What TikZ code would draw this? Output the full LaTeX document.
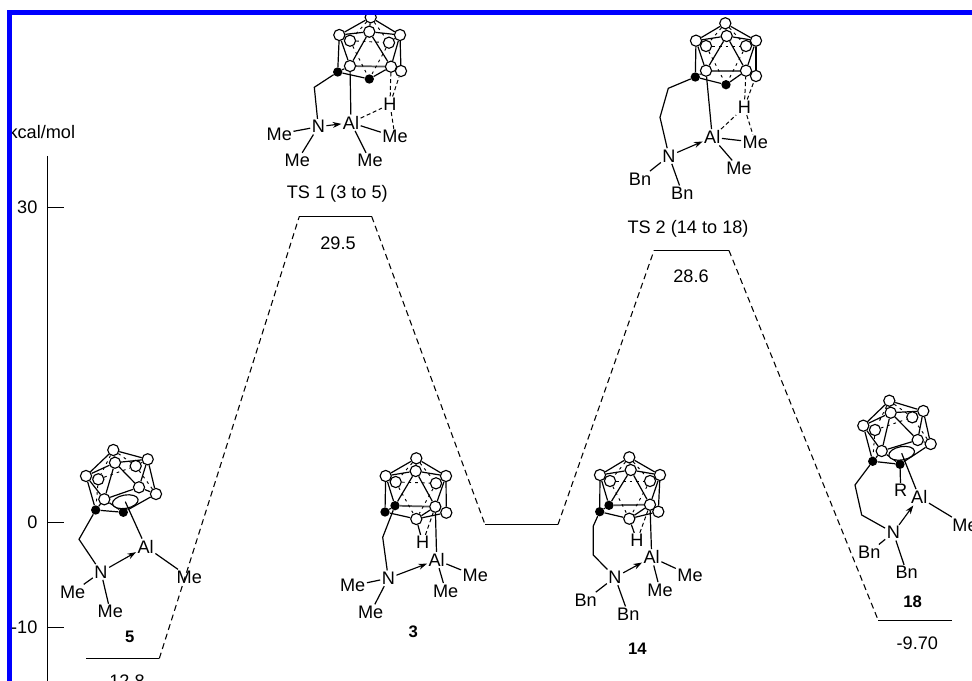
\documentclass[tikz,border=0pt]{standalone}
\usepackage{fontspec}
\setmainfont{Liberation Sans}
\usetikzlibrary{arrows.meta, shapes.geometric, backgrounds}

% cage bonds, one macro per way the cage is drawn
\newcommand{\opencage}{
  \begin{scope}[on background layer]
    \foreach \a/\b in {top/r, top/c, top/l, c/l, c/r, c/fl, c/fr, l/fl, l/ca, r/fr, r/frr, fr/frr, fl/ca, ca/cb, fl/cb, fr/fl, frr/cb}
      \draw[bond] (\a) -- (\b);
    \foreach \a/\b in {top/br, top/bl, l/bl, r/br, frr/br, bl/ca, bl/br}
      \draw[backbond] (\a) -- (\b);
  \end{scope}
}
\newcommand{\tscage}{
  \begin{scope}[on background layer]
    \foreach \a/\b in {top/l, top/c, top/r, l/c, c/r, c/fl, c/fr, l/fl, l/ca, r/fr, r/frr, ca/fl, ca/cb, cb/fr, fr/frr}
      \draw[bond] (\a) -- (\b);
    \draw[frontbond] (fl) -- (fr);
    \foreach \a/\b in {top/bl, top/br, l/bl, r/br, bl/br, bl/cb, br/cb}
      \draw[backbond] (\a) -- (\b);
  \end{scope}
}
\newcommand{\hcage}{
  \begin{scope}[on background layer]
    \foreach \a/\b in {top/l, top/c, top/r, l/c, c/r, c/ca, c/fr, l/ca, l/cb, r/fr, r/frr, ca/cb, cb/bot, bot/fr, bot/frr, fr/frr}
      \draw[bond] (\a) -- (\b);
    \draw[frontbond] (ca) -- (fr);
    \foreach \a/\b in {top/bl, top/br, l/bl, r/br, bl/br, bl/bot, br/bot}
      \draw[backbond] (\a) -- (\b);
  \end{scope}
}

\begin{document}
\begin{tikzpicture}[
  x=0.75pt, y=-0.75pt,
  lbl/.style={font=\fontsize{13.6}{15}\selectfont, inner sep=1pt},
  cmpd/.style={font=\fontsize{12.5}{14}\selectfont\bfseries, inner sep=1pt},
  atom/.style={circle, draw, fill=white, inner sep=0pt, minimum size=8.4pt, line width=0.85pt},
  carbon/.style={circle, fill=black, inner sep=0pt, minimum size=7pt},
  orbital/.style={ellipse, draw, fill=white, inner sep=0pt, minimum width=19.5pt, minimum height=10pt, line width=0.85pt},
  bond/.style={line width=0.9pt},
  frontbond/.style={line width=1.3pt, black!65},
  backbond/.style={line width=0.7pt, dash pattern=on 2pt off 3pt},
  dbond/.style={line width=0.75pt, dash pattern=on 3pt off 2pt},
  dative/.style={line width=0.85pt, -{Stealth[length=6.5pt, width=4.5pt]}},
  level/.style={line width=0.75pt},
  barrier/.style={line width=0.8pt, dash pattern=on 4.5pt off 3pt}
]
  \useasboundingbox (0,0) rectangle (972,681);

  % axis
  \coordinate (axistop) at (47.5,156);
  \coordinate (axisbot) at (47.5,681);
  \draw[level] (axistop) -- (axisbot);
  \node[lbl, anchor=west] (unit) at (7,132) {kcal/mol};
  \foreach \y/\t in {207.5/30, 522.5/0, 627.5/-10} {
    \coordinate (tick\t) at (47.5,\y);
    \node[lbl, anchor=east] (lab\t) at (39,\y) {\t};
    \draw[level] (tick\t) -- ++(16,0);
  }

  % energy levels
  \foreach \n/\a/\b/\y in {five/86/159.3/658.5, tsone/299.3/371.7/216.5, three/485/558/524.5, tstwo/654/729/250.5, eight/878.3/951.7/620.5} {
    \coordinate (\n a) at (\a,\y);
    \coordinate (\n b) at (\b,\y);
    \draw[level] (\n a) -- (\n b);
  }
  \draw[barrier] (fiveb) -- (tsonea);
  \draw[barrier] (tsoneb) -- (threea);
  \draw[barrier] (threeb) -- (tstwoa);
  \draw[barrier] (tstwob) -- (eighta);

  \node[lbl] (e5)  at (124,681) {-12.8};
  \node[lbl] (e1)  at (338,243) {29.5};
  \node[lbl] (e2)  at (691,276) {28.6};
  \node[lbl] (e18) at (917.3,643) {-9.70};
  \node[lbl] (ts1) at (337.3,194) {TS 1 (3 to 5)};
  \node[lbl] (ts2) at (688,229) {TS 2 (14 to 18)};
  \node[cmpd] (c5)  at (129.7,636.7) {5};
  \node[cmpd] (c3)  at (413.3,632) {3};
  \node[cmpd] (c14) at (637.3,648.3) {14};
  \node[cmpd] (c18) at (912.7,602) {18};

  % 5
  \begin{scope}[name prefix=mf-]
    \foreach \n/\x/\y in {top/113.3/450, r/147.7/459.3, c/115/462.7, br/135.7/466, l/86/476, bl/98.3/479.3, fr/139/487.3, frr/156/494, fl/104.3/499.3}
      \node[atom] (\n) at (\x,\y) {};
    \node[carbon] (ca) at (95.7,510) {};
    \node[carbon] (cb) at (123.3,512.3) {};
    \node[orbital, rotate=10] (orb) at (125.3,501.7) {};
    \opencage
    \coordinate (ch) at (79,539.3);
    \node[lbl] (n)  at (101,572) {N};
    \node[lbl] (al) at (145.7,546.7) {Al};
    \node[lbl] (m1) at (189.3,577.3) {Me};
    \node[lbl] (m2) at (72.7,592.3) {Me};
    \node[lbl] (m3) at (110.3,611.7) {Me};
    \draw[bond] (ca) -- (ch) -- (n);
    \draw[bond] (al) -- (orb.center);
    \draw[bond] (al) -- (m1);
    \draw[bond] (n) -- (m2);
    \draw[bond] (n) -- (m3);
    \draw[dative] (n) -- (al);
  \end{scope}

  % TS 1
  \begin{scope}[name prefix=ma-]
    \foreach \n/\x/\y in {top/370.7/17.3, l/339.3/35, c/369.3/31.7, r/400/35, bl/350/40.7, br/389/42.7, fl/350/66, fr/391/66.7, frr/401/71}
      \node[atom] (\n) at (\x,\y) {};
    \node[carbon] (ca) at (337.7,72) {};
    \node[carbon] (cb) at (369.3,79) {};
    \tscage
    \coordinate (ch) at (314.3,87.3);
    \node[lbl] (n)  at (318.3,126.7) {N};
    \node[lbl] (al) at (351,122.7) {Al};
    \node[lbl] (h)  at (390,104.3) {H};
    \node[lbl] (m1) at (395,136.7) {Me};
    \node[lbl] (m2) at (279.3,134) {Me};
    \node[lbl] (m3) at (297.3,160.7) {Me};
    \node[lbl] (m4) at (370,160.7) {Me};
    \draw[bond] (ca) -- (ch) -- (n);
    \draw[bond] (al) -- (fl);
    \draw[bond] (al) -- (m1);
    \draw[bond] (al) -- (m4);
    \draw[bond] (n) -- (m2);
    \draw[bond] (n) -- (m3);
    \draw[dative] (n) -- (al);
    \foreach \a/\b in {al/h, h/m1, h/fr, h/frr}
      \draw[dbond] (\a) -- (\b);
  \end{scope}

  % TS 2
  \begin{scope}[name prefix=mb-]
    \foreach \n/\x/\y in {top/725.3/23.3, l/696/40.7, c/726.7/36, r/756/40.7, bl/706/46, br/746/46, fl/706/70.7, fr/746/70.7, frr/756/76}
      \node[atom] (\n) at (\x,\y) {};
    \node[carbon] (ca) at (695.3,77) {};
    \node[carbon] (cb) at (726,84.7) {};
    \tscage
    \coordinate (cha) at (668.3,88.3);
    \coordinate (chb) at (660,117.3);
    \node[lbl] (n)  at (669,156) {N};
    \node[lbl] (al) at (712.3,137.3) {Al};
    \node[lbl] (h)  at (744.3,107.3) {H};
    \node[lbl] (m1) at (755.3,142.3) {Me};
    \node[lbl] (m2) at (739,168.3) {Me};
    \node[lbl] (b1) at (640,179) {Bn};
    \node[lbl] (b2) at (682.3,193.3) {Bn};
    \draw[bond] (ca) -- (cha) -- (chb) -- (n);
    \draw[bond] (al) -- (fl);
    \draw[bond] (al) -- (m1);
    \draw[bond] (al) -- (m2);
    \draw[bond] (n) -- (b1);
    \draw[bond] (n) -- (b2);
    \draw[dative] (n) -- (al);
    \foreach \a/\b in {al/h, h/m1, h/fr, h/frr}
      \draw[dbond] (\a) -- (\b);
  \end{scope}

  % 3
  \begin{scope}[name prefix=mc-]
    \foreach \n/\x/\y in {top/416.3/458.3, l/385.7/476, c/415.7/471, r/446/476, bl/395.7/482, br/436/483.3, fr/435.3/506.7, frr/446.3/512.7, bot/416.3/519}
      \node[atom] (\n) at (\x,\y) {};
    \node[carbon] (ca) at (395,505.7) {};
    \node[carbon] (cb) at (385,512) {};
    \hcage
    \coordinate (ch) at (382.7,537.3);
    \node[lbl] (n)  at (388.3,578.3) {N};
    \node[lbl] (al) at (436.7,560) {Al};
    \node[lbl] (h)  at (422.7,542.7) {H};
    \node[lbl] (m1) at (475.3,575.7) {Me};
    \node[lbl] (m2) at (445.7,591) {Me};
    \node[lbl] (m3) at (352.7,585.7) {Me};
    \node[lbl] (m4) at (370.7,612.3) {Me};
    \draw[bond] (ca) -- (ch) -- (n);
    \draw[bond] (al) -- (fr);
    \draw[bond] (al) -- (m1);
    \draw[bond] (al) -- (m2);
    \draw[bond] (n) -- (m3);
    \draw[bond] (n) -- (m4);
    \draw[dative] (n) -- (al);
    \draw[bond] (h) -- (bot);
    \draw[dbond] (h) -- (fr);
  \end{scope}

  % 14
  \begin{scope}[name prefix=md-]
    \foreach \n/\x/\y in {top/629.3/457.3, l/600/475, c/630.7/470, r/660/475, bl/610/481, br/650/481, fr/650/504.7, frr/658.3/511.7, bot/629.3/518.7}
      \node[atom] (\n) at (\x,\y) {};
    \node[carbon] (ca) at (609,505.3) {};
    \node[carbon] (cb) at (599.7,511.7) {};
    \hcage
    \coordinate (cha) at (593.3,526);
    \coordinate (chb) at (593.3,555);
    \node[lbl] (n)  at (615,577.3) {N};
    \node[lbl] (al) at (651.7,557.3) {Al};
    \node[lbl] (h)  at (637,540.7) {H};
    \node[lbl] (m1) at (690,575) {Me};
    \node[lbl] (m2) at (660,590) {Me};
    \node[lbl] (b1) at (585.7,600) {Bn};
    \node[lbl] (b2) at (628.3,614.3) {Bn};
    \draw[bond] (cb) -- (cha) -- (chb) -- (n);
    \draw[bond] (al) -- (fr);
    \draw[bond] (al) -- (m1);
    \draw[bond] (al) -- (m2);
    \draw[bond] (n) -- (b1);
    \draw[bond] (n) -- (b2);
    \draw[dative] (n) -- (al);
    \draw[bond] (h) -- (bot);
    \draw[dbond] (h) -- (fr);
  \end{scope}

  % 18
  \begin{scope}[name prefix=me-]
    \foreach \n/\x/\y in {top/889.3/400.7, r/923.3/411, c/890.7/412.7, br/912.3/417.3, l/863.3/425.7, bl/875/430, fr/917.7/440, frr/930.7/444, fl/881.7/451}
      \node[atom] (\n) at (\x,\y) {};
    \node[carbon] (ca) at (872.7,461.3) {};
    \node[carbon] (cb) at (900,464.3) {};
    \node[orbital, rotate=10] (orb) at (901.7,453.3) {};
    \opencage
    \coordinate (cha) at (855,485);
    \coordinate (chb) at (861.7,515);
    \node[lbl] (n)  at (893.3,532.7) {N};
    \node[lbl] (al) at (919.3,497.3) {Al};
    \node[lbl] (r)  at (900.7,490.7) {R};
    \node[lbl] (m1) at (965,525) {Me};
    \node[lbl] (b1) at (869.3,552.3) {Bn};
    \node[lbl] (b2) at (906.7,572.7) {Bn};
    \draw[bond] (ca) -- (cha) -- (chb) -- (n);
    \draw[bond] (cb) -- (r);
    \draw[bond] (al) -- (orb.center);
    \draw[bond] (al) -- (m1);
    \draw[bond] (n) -- (b1);
    \draw[bond] (n) -- (b2);
    \draw[dative] (n) -- (al);
  \end{scope}

  % frame of the page
  \fill[blue] (7.3,10) rectangle (972,15);
  \fill[blue] (7.3,10) rectangle (12.3,681);
\end{tikzpicture}
\end{document}
